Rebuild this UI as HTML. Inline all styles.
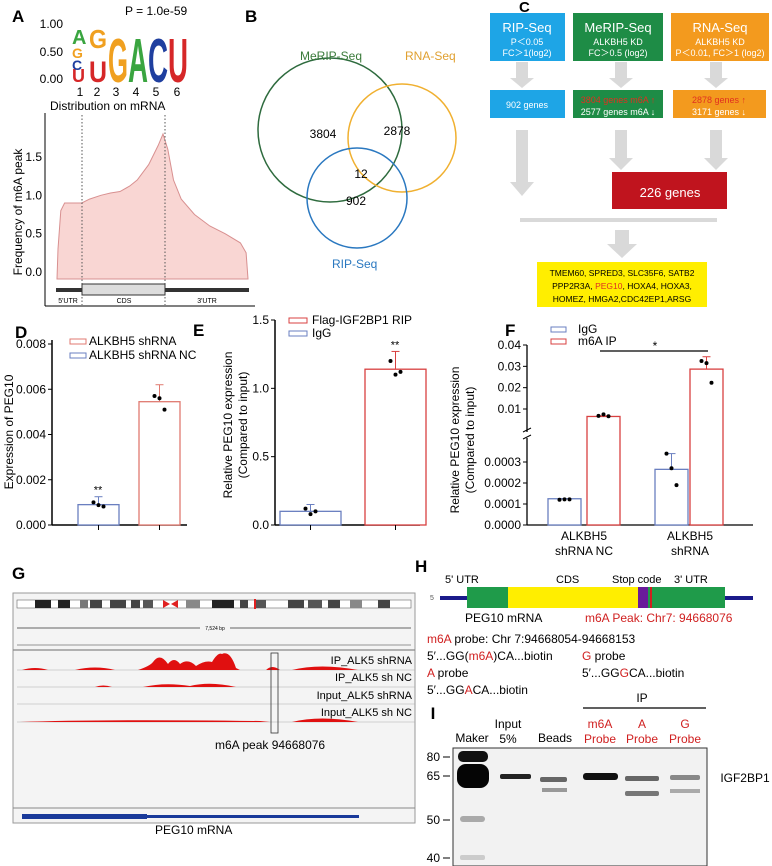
<!DOCTYPE html>
<html><head><meta charset="utf-8"><style>
html,body{margin:0;padding:0;background:#fff}
svg{display:block;font-family:"Liberation Sans",Arial,sans-serif}
</style></head><body>
<svg id="fig" width="772" height="866" viewBox="0 0 772 866" xmlns="http://www.w3.org/2000/svg">
<!-- Panel A -->
<g>
<text x="12" y="22" font-size="17" font-weight="bold">A</text>
<text x="125" y="15" font-size="12">P = 1.0e-59</text>
<g font-size="12" text-anchor="end">
<text x="63" y="28">1.00</text><text x="63" y="56">0.50</text><text x="63" y="83">0.00</text></g>
<g font-family="Liberation Sans" font-weight="bold">
<text x="72" y="82" font-size="18" fill="#d62728">U</text>
<text x="72" y="70" font-size="14" fill="#1f3f9f">C</text>
<text x="72" y="58" font-size="14" fill="#f0a020">G</text>
<text x="72" y="44" font-size="20" fill="#3aa540">A</text>
<text x="89" y="82" font-size="30" fill="#d62728" textLength="18" lengthAdjust="spacingAndGlyphs">U</text>
<text x="89" y="48" font-size="26" fill="#f0a020" textLength="18" lengthAdjust="spacingAndGlyphs">G</text>
<text x="108" y="82" font-size="62" fill="#f0a020" textLength="20" lengthAdjust="spacingAndGlyphs">G</text>
<text x="128" y="82" font-size="62" fill="#3aa540" textLength="20" lengthAdjust="spacingAndGlyphs">A</text>
<text x="148" y="82" font-size="62" fill="#1f3f9f" textLength="20" lengthAdjust="spacingAndGlyphs">C</text>
<text x="168" y="82" font-size="62" fill="#d62728" textLength="20" lengthAdjust="spacingAndGlyphs">U</text>
</g>
<g font-size="12" text-anchor="middle">
<text x="80" y="96">1</text><text x="97" y="96">2</text><text x="116" y="96">3</text><text x="136" y="96">4</text><text x="156" y="96">5</text><text x="177" y="96">6</text></g>
<text x="50" y="110" font-size="12">Distribution on mRNA</text>
<g id="chartA"></g>
<text transform="translate(22,212) rotate(-90)" font-size="12" text-anchor="middle">Frequency of m6A peak</text>
</g>
<!-- Panel B -->
<g>
<text x="245" y="22" font-size="17" font-weight="bold">B</text>
<circle cx="330" cy="130" r="72" fill="none" stroke="#2e6b3e" stroke-width="1.5"/>
<circle cx="402" cy="138" r="54" fill="none" stroke="#f0b030" stroke-width="1.5"/>
<circle cx="357" cy="198" r="50" fill="none" stroke="#2a78c0" stroke-width="1.5"/>
<text x="300" y="60" font-size="12" fill="#3a7a3a">MeRIP-Seq</text>
<text x="405" y="60" font-size="12" fill="#e0a030">RNA-Seq</text>
<text x="332" y="268" font-size="12" fill="#2a78c0">RIP-Seq</text>
<g font-size="12" text-anchor="middle">
<text x="323" y="138">3804</text><text x="397" y="135">2878</text><text x="361" y="178">12</text><text x="356" y="205">902</text></g>
</g>
<!-- Panel C -->
<g text-anchor="middle">
<g fill="#d9d9d9">
<rect x="516" y="62" width="12" height="16"/><polygon points="510,78 534,78 522,88"/>
<rect x="615" y="62" width="12" height="16"/><polygon points="609,78 633,78 621,88"/>
<rect x="710" y="62" width="12" height="16"/><polygon points="704,78 728,78 716,88"/>
<rect x="516" y="130" width="12" height="52"/><polygon points="510,182 534,182 522,196"/>
<rect x="615" y="130" width="12" height="30"/><polygon points="609,158 633,158 621,170"/>
<rect x="710" y="130" width="12" height="30"/><polygon points="704,158 728,158 716,170"/>
<rect x="520" y="218" width="197" height="4"/>
<rect x="615" y="230" width="14" height="14"/><polygon points="607,244 637,244 622,258"/>
</g>
<rect x="490" y="13" width="75" height="48" fill="#1ea5e6"/>
<text x="527" y="32" font-size="13" fill="#fff">RIP-Seq</text><text x="527" y="45" font-size="9" fill="#fff">P＜0.05</text><text x="527" y="56" font-size="9" fill="#fff">FC＞1(log2)</text>
<rect x="573" y="13" width="90" height="48" fill="#1e8c46"/>
<text x="618" y="32" font-size="13" fill="#fff">MeRIP-Seq</text><text x="618" y="45" font-size="9" fill="#fff">ALKBH5 KD</text><text x="618" y="56" font-size="9" fill="#fff">FC＞0.5 (log2)</text>
<rect x="671" y="13" width="98" height="48" fill="#f39a1e"/>
<text x="720" y="32" font-size="13" fill="#fff">RNA-Seq</text><text x="720" y="45" font-size="9" fill="#fff">ALKBH5 KD</text><text x="720" y="56" font-size="9" fill="#fff">P＜0.01, FC＞1 (log2)</text>
<rect x="490" y="90" width="75" height="28" fill="#1ea5e6"/>
<text x="527" y="108" font-size="9" fill="#fff">902 genes</text>
<rect x="573" y="90" width="90" height="28" fill="#1e8c46"/>
<text x="618" y="103" font-size="9" fill="#e03020">3804 genes m6A ↑</text><text x="618" y="115" font-size="9" fill="#fff">2577 genes m6A ↓</text>
<rect x="673" y="90" width="93" height="28" fill="#f39a1e"/>
<text x="719" y="103" font-size="9" fill="#e03020">2878 genes ↑</text><text x="719" y="115" font-size="9" fill="#fff">3171 genes ↓</text>
<rect x="612" y="172" width="115" height="37" fill="#c0141e"/>
<text x="670" y="197" font-size="13" fill="#fff">226 genes</text>
<rect x="537" y="262" width="170" height="45" fill="#ffee00"/>
<g font-size="8.5">
<text x="622" y="276">TMEM60, SPRED3, SLC35F6, SATB2</text>
<text x="622" y="289">PPP2R3A, <tspan fill="#e03020">PEG10</tspan>, HOXA4, HOXA3,</text>
<text x="622" y="302">HOMEZ, HMGA2,CDC42EP1,ARSG</text></g>
<text x="519" y="12" font-size="15" font-weight="bold" text-anchor="start">C</text>
</g>
<!-- Panels D,E,F -->
<text x="15" y="338" font-size="17" font-weight="bold">D</text>
<text x="193" y="336" font-size="17" font-weight="bold">E</text>
<text x="505" y="336" font-size="17" font-weight="bold">F</text>
<g id="chartD"></g>
<g id="chartE"></g>
<g id="chartF"></g>
<!-- Panel G -->
<g>
<text x="12" y="579" font-size="17" font-weight="bold">G</text>
<rect x="13" y="593" width="402" height="230" fill="#f4f4f4" stroke="#999"/>
<rect x="17" y="600" width="394" height="8" fill="#fff" stroke="#666" stroke-width="0.6"/>
<g fill="#222">
<rect x="35" y="600" width="16" height="8"/><rect x="58" y="600" width="12" height="8"/><rect x="80" y="600" width="8" height="8" fill="#777"/><rect x="90" y="600" width="12" height="8" fill="#444"/><rect x="110" y="600" width="16" height="8" fill="#444"/><rect x="131" y="600" width="9" height="8" fill="#444"/><rect x="143" y="600" width="10" height="8" fill="#555"/><rect x="186" y="600" width="14" height="8" fill="#888"/><rect x="212" y="600" width="22" height="8"/><rect x="240" y="600" width="8" height="8" fill="#444"/><rect x="256" y="600" width="10" height="8" fill="#555"/><rect x="288" y="600" width="16" height="8" fill="#444"/><rect x="308" y="600" width="14" height="8" fill="#555"/><rect x="328" y="600" width="12" height="8" fill="#444"/><rect x="350" y="600" width="12" height="8" fill="#888"/><rect x="378" y="600" width="12" height="8" fill="#444"/>
<rect x="254" y="599" width="2" height="10" fill="#e02020"/>
<polygon points="163,600 170,604 163,608" fill="#e02020"/><polygon points="178,600 171,604 178,608" fill="#e02020"/></g>
<line x1="17" y1="628" x2="411" y2="628" stroke="#333" stroke-width="0.8"/>
<rect x="200" y="624" width="30" height="8" fill="#f4f4f4"/>
<text x="215" y="630" font-size="5" text-anchor="middle">7,524 bp</text>
<line x1="17" y1="645" x2="411" y2="645" stroke="#333" stroke-width="0.6"/>
<line x1="13" y1="650" x2="415" y2="650" stroke="#888" stroke-width="1.2"/>
<g stroke="#aaa" stroke-width="0.5"><line x1="17" y1="670" x2="415" y2="670"/><line x1="17" y1="687" x2="415" y2="687"/><line x1="17" y1="704" x2="415" y2="704"/><line x1="17" y1="722" x2="415" y2="722"/><line x1="13" y1="808" x2="415" y2="808" stroke="#888" stroke-width="1"/></g>
<g fill="#e01010">
<path d="M22 670 Q35 666 48 670 L75 670 Q95 665 115 670 L138 670 Q150 666 153 662 Q160 652 168 664 Q174 656 180 664 Q188 658 196 666 Q205 660 212 662 Q218 652 222 654 Q230 650 236 668 L240 670 Z"/>
<path d="M266 670 Q272 664 280 670 Z M292 670 Q320 663 358 670 Z"/>
<path d="M95 687 Q103 684 112 687 Z M143 687 Q165 682 190 686 Q210 681 236 687 Z"/>
<path d="M20 722 Q100 719 260 721 L270 722 Z M292 722 Q320 715 358 722 Z"/>
</g>
<g font-size="11" text-anchor="end">
<text x="412" y="664">IP_ALK5 shRNA</text><text x="412" y="681">IP_ALK5 sh NC</text><text x="412" y="699">Input_ALK5 shRNA</text><text x="412" y="716">Input_ALK5 sh NC</text></g>
<rect x="271" y="653" width="7" height="80" fill="none" stroke="#333" stroke-width="0.8"/>
<text x="215" y="749" font-size="12">m6A peak 94668076</text>
<rect x="22" y="814" width="125" height="5" fill="#1a3a9a"/>
<rect x="147" y="815" width="212" height="3" fill="#1a3a9a"/>
<text x="155" y="834" font-size="12">PEG10 mRNA</text>
</g>
<!-- Panel H -->
<g font-size="11">
<text x="415" y="572" font-size="17" font-weight="bold">H</text>
<g font-size="11"><text x="445" y="583">5' UTR</text><text x="556" y="583">CDS</text><text x="612" y="583">Stop code</text><text x="674" y="583">3' UTR</text></g>
<text x="430" y="600" font-size="7" fill="#555">5</text>
<rect x="440" y="596" width="313" height="4" fill="#1a1a8a"/>
<rect x="467" y="587" width="41" height="21" fill="#1f9b4a"/>
<rect x="508" y="587" width="130" height="21" fill="#ffee00"/>
<rect x="638" y="587" width="10" height="21" fill="#6a1b9a"/>
<rect x="648" y="587" width="77" height="21" fill="#1f9b4a"/>
<rect x="650" y="587" width="2" height="21" fill="#d02020"/>
<text x="465" y="622" font-size="12">PEG10 mRNA</text>
<text x="585" y="622" font-size="12" fill="#d02020">m6A Peak: Chr7: 94668076</text>
<text x="427" y="643" font-size="12"><tspan fill="#d02020">m6A</tspan> probe: Chr 7:94668054-94668153</text>
<text x="427" y="660" font-size="12">5′...GG(<tspan fill="#d02020">m6A</tspan>)CA...biotin</text>
<text x="582" y="660" font-size="12"><tspan fill="#d02020">G</tspan> probe</text>
<text x="427" y="677" font-size="12"><tspan fill="#d02020">A</tspan> probe</text>
<text x="582" y="677" font-size="12">5′...GG<tspan fill="#d02020">G</tspan>CA...biotin</text>
<text x="427" y="694" font-size="12">5′...GG<tspan fill="#d02020">A</tspan>CA...biotin</text>
</g>
<!-- Panel I -->
<g font-size="12" text-anchor="middle">
<text x="433" y="719" font-size="17" font-weight="bold">I</text>
<text x="642" y="702">IP</text>
<line x1="583" y1="708" x2="706" y2="708" stroke="#000" stroke-width="1.2"/>
<text x="472" y="742">Maker</text>
<text x="508" y="728">Input</text><text x="508" y="743">5%</text>
<text x="555" y="742">Beads</text>
<g fill="#d02020"><text x="600" y="728">m6A</text><text x="600" y="743">Probe</text><text x="642" y="728">A</text><text x="642" y="743">Probe</text><text x="685" y="728">G</text><text x="685" y="743">Probe</text></g>
<rect x="453" y="748" width="254" height="118" fill="#f2f2f2" stroke="#333"/>
<g text-anchor="end"><text x="440" y="761">80</text><text x="440" y="780">65</text><text x="440" y="824">50</text><text x="440" y="862">40</text></g>
<g stroke="#000"><line x1="443" y1="757" x2="450" y2="757"/><line x1="443" y1="776" x2="450" y2="776"/><line x1="443" y1="820" x2="450" y2="820"/><line x1="443" y1="858" x2="450" y2="858"/></g>
<g>
<rect x="458" y="751" width="30" height="11" rx="5" fill="#111"/>
<rect x="457" y="764" width="32" height="24" rx="9" fill="#050505"/>
<rect x="460" y="816" width="25" height="6" rx="3" fill="#aaa"/>
<rect x="460" y="855" width="25" height="5" rx="2" fill="#ccc"/>
<rect x="500" y="774" width="31" height="5" rx="2" fill="#222"/>
<rect x="540" y="777" width="27" height="5" rx="2" fill="#666"/>
<rect x="542" y="788" width="25" height="4" fill="#999"/>
<rect x="583" y="773" width="35" height="7" rx="3" fill="#111"/>
<rect x="625" y="776" width="34" height="5" rx="2" fill="#666"/>
<rect x="625" y="791" width="34" height="5" rx="2" fill="#777"/>
<rect x="670" y="775" width="30" height="5" rx="2" fill="#888"/>
<rect x="670" y="789" width="30" height="4" fill="#aaa"/></g>
<text x="745" y="782">IGF2BP1</text>
</g>
</svg>
<script>
const NS="http://www.w3.org/2000/svg";
function mk(p,tag,a){const e=document.createElementNS(NS,tag);for(const k in a)e.setAttribute(k,a[k]);p.appendChild(e);return e;}
// ---- Panel A data ----
const metaPos=[0,0.005,0.02,0.04,0.13,0.17,0.23,0.28,0.33,0.38,0.42,0.48,0.53,0.555,0.58,0.61,0.65,0.72,0.8,0.88,0.96,0.99,1.0];
const metaFreq=[-0.09,0.3,0.8,0.9,0.9,0.95,1.0,1.03,1.05,1.12,1.2,1.4,1.65,1.8,1.6,1.2,0.95,0.75,0.6,0.5,0.38,0.25,-0.09];
const aTicks=[0.0,0.5,1.0,1.5];
// ---- Panel D data ----
const dGroups=["ALKBH5 shRNA NC","ALKBH5 shRNA"];
const dMeans=[0.0009,0.00545];
const dErr=[0.00125,0.0062];
const dPts=[[0.0010,0.00088,0.00082],[0.0057,0.0056,0.0051]];
const dTicks=[0,0.002,0.004,0.006,0.008];
const dTickLabels=["0.000","0.002","0.004","0.006","0.008"];
// ---- Panel E data ----
const eGroups=["IgG","Flag-IGF2BP1 RIP"];
const eMeans=[0.10,1.14];
const eErr=[0.15,1.27];
const ePts=[[0.12,0.08,0.10],[1.20,1.10,1.12]];
const eTicks=[0,0.5,1.0,1.5];
const eTickLabels=["0.0","0.5","1.0","1.5"];
// ---- Panel F data ----
const fCategories=["ALKBH5 shRNA NC","ALKBH5 shRNA"];
const fIgG=[0.000125,0.000265];
const fIgGErr=[0.000125,0.00034];
const fIgGPts=[[0.000120,0.000122,0.000122],[0.00034,0.00027,0.00019]];
const fM6A=[0.0065,0.0287];
const fM6AErr=[0.0068,0.0345];
const fM6APts=[[0.0068,0.0075,0.0066],[0.0325,0.0315,0.0223]];
const fLowTicks=[0,0.0001,0.0002,0.0003];
const fLowLabels=["0.0000","0.0001","0.0002","0.0003"];
const fHighTicks=[0.01,0.02,0.03,0.04];
const fHighLabels=["0.01","0.02","0.03","0.04"];

// Panel A render
(function(){
const g=document.getElementById('chartA');
const x=p=>57+p*191, y=v=>272-v*76.7;
let d="M"+x(metaPos[0])+" 279";
metaPos.forEach((p,i)=>{d+=" L"+x(p).toFixed(1)+" "+y(metaFreq[i]).toFixed(1);});
d+=" L"+x(1)+" 279 Z";
const pa=mk(g,'path',{d:d,fill:'#f9d6d3',stroke:'#d89090','stroke-width':1});


mk(g,'line',{x1:45,y1:113,x2:45,y2:306,stroke:'#000'});
mk(g,'line',{x1:45,y1:306,x2:255,y2:306,stroke:'#000'});
aTicks.forEach(t=>{const tx=mk(g,'text',{x:42,y:y(t)+4,'font-size':12,'text-anchor':'end'});tx.textContent=t.toFixed(1);

});
[82,165].forEach(v=>mk(g,'line',{x1:v,y1:115,x2:v,y2:305,stroke:'#555','stroke-dasharray':'1.5,2'}));
mk(g,'rect',{x:56,y:288,width:193,height:4,fill:'#333'});
const cds=mk(g,'rect',{x:82,y:284,width:83,height:11,fill:'#ddd',stroke:'#333'});


[["5'UTR",68],["CDS",124],["3'UTR",207]].forEach(l=>{const t=mk(g,'text',{x:l[1],y:303,'font-size':7,'text-anchor':'middle'});t.textContent=l[0];});
})();

function barChart(gid,opt){
const g=document.getElementById(gid);
const y=opt.y;
mk(g,'line',{x1:opt.ax,y1:opt.top,x2:opt.ax,y2:opt.base,stroke:'#000','stroke-width':1.5});
mk(g,'line',{x1:opt.ax,y1:opt.base,x2:opt.axEnd,y2:opt.base,stroke:'#000','stroke-width':1.5});
opt.ticks.forEach((t,i)=>{mk(g,'line',{x1:opt.ax-4,y1:y(t),x2:opt.ax,y2:y(t),stroke:'#000'});
const tx=mk(g,'text',{x:opt.ax-6,y:y(t)+4,'font-size':12,'text-anchor':'end'});tx.textContent=opt.labels[i];

});
opt.means.forEach((m,i)=>{const bx=opt.bx[i],bw=opt.bw,c=opt.colors[i];
const r=mk(g,'rect',{x:bx,y:y(m),width:bw,height:opt.base-y(m),fill:'#fff',stroke:c,'stroke-width':1.3});


const cx=bx+bw/2;
mk(g,'line',{x1:cx,y1:y(m),x2:cx,y2:y(opt.err[i]),stroke:c});
mk(g,'line',{x1:cx-4,y1:y(opt.err[i]),x2:cx+4,y2:y(opt.err[i]),stroke:c});
opt.pts[i].forEach((p,j)=>{const dot=mk(g,'circle',{cx:cx-5+j*5,cy:y(p),r:2,fill:'#000'});

});
mk(g,'line',{x1:cx,y1:opt.base,x2:cx,y2:opt.base+5,stroke:'#000'});
});
}
// D
barChart('chartD',{y:v=>525-v/0.008*181,ax:52,top:340,base:525,axEnd:187,ticks:dTicks,labels:dTickLabels,means:dMeans,err:dErr,pts:dPts,bx:[78,139],bw:41,colors:['#6a7fc0','#e07a70']});
(function(){const g=document.getElementById('chartD');
const y=v=>525-v/0.008*181;
const s=mk(g,'text',{x:98,y:y(dErr[0])-3,'font-size':11,'text-anchor':'middle'});s.textContent='**';
mk(g,'rect',{x:70,y:339,width:16,height:5,fill:'none',stroke:'#e07a70'});
const t1=mk(g,'text',{x:89,y:345,'font-size':12});t1.textContent='ALKBH5 shRNA';
mk(g,'rect',{x:70,y:353,width:16,height:5,fill:'none',stroke:'#6a7fc0'});
const t2=mk(g,'text',{x:89,y:359,'font-size':12});t2.textContent='ALKBH5 shRNA NC';
const yl=mk(g,'text',{transform:'translate(13,432) rotate(-90)','font-size':12,'text-anchor':'middle'});yl.textContent='Expression of PEG10';

})();
// E
barChart('chartE',{y:v=>525-v/1.5*205,ax:275,top:320,base:525,axEnd:420,ticks:eTicks,labels:eTickLabels,means:eMeans,err:eErr,pts:ePts,bx:[280,365],bw:61,colors:['#6a7fc0','#d84040']});
(function(){const g=document.getElementById('chartE');
const y=v=>525-v/1.5*205;
const s=mk(g,'text',{x:395,y:y(eErr[1])-3,'font-size':11,'text-anchor':'middle'});s.textContent='**';
mk(g,'rect',{x:289,y:318,width:18,height:5,fill:'none',stroke:'#d84040'});
const t1=mk(g,'text',{x:312,y:324,'font-size':12});t1.textContent='Flag-IGF2BP1 RIP';
mk(g,'rect',{x:289,y:331,width:18,height:5,fill:'none',stroke:'#6a7fc0'});
const t2=mk(g,'text',{x:312,y:337,'font-size':12});t2.textContent='IgG';
const yl=mk(g,'text',{transform:'translate(232,425) rotate(-90)','font-size':12,'text-anchor':'middle'});yl.textContent='Relative PEG10 expression';
const yl2=mk(g,'text',{transform:'translate(247,425) rotate(-90)','font-size':12,'text-anchor':'middle'});yl2.textContent='(Compared to input)';

})();
// F
(function(){const g=document.getElementById('chartF');
const y=v=>v<=0.00035?525-v/0.0003*63:409-(v-0.01)*2133;
const ax=527,base=525;
mk(g,'line',{x1:ax,y1:345,x2:ax,y2:432,stroke:'#000','stroke-width':1.3});
mk(g,'line',{x1:ax,y1:438,x2:ax,y2:base,stroke:'#000','stroke-width':1.3});
mk(g,'line',{x1:ax-4,y1:432,x2:ax+4,y2:428,stroke:'#000'});
mk(g,'line',{x1:ax-4,y1:439,x2:ax+4,y2:435,stroke:'#000'});
mk(g,'line',{x1:ax,y1:base,x2:753,y2:base,stroke:'#000','stroke-width':1.3});
fLowTicks.forEach((t,i)=>{mk(g,'line',{x1:ax-4,y1:y(t),x2:ax,y2:y(t),stroke:'#000'});const tx=mk(g,'text',{x:ax-6,y:y(t)+4,'font-size':12,'text-anchor':'end'});tx.textContent=fLowLabels[i];});
fHighTicks.forEach((t,i)=>{mk(g,'line',{x1:ax-4,y1:y(t),x2:ax,y2:y(t),stroke:'#000'});const tx=mk(g,'text',{x:ax-6,y:y(t)+4,'font-size':12,'text-anchor':'end'});tx.textContent=fHighLabels[i];});
const groups=[[fIgG,fIgGErr,fIgGPts,[548,655],'#6a7fc0'],[fM6A,fM6AErr,fM6APts,[587,690],'#d84040']];
groups.forEach(gr=>{gr[0].forEach((m,i)=>{const bx=gr[3][i],bw=33,c=gr[4];
const r=mk(g,'rect',{x:bx,y:y(m),width:bw,height:base-y(m),fill:'#fff',stroke:c,'stroke-width':1.3});


const cx=bx+bw/2;
mk(g,'line',{x1:cx,y1:y(m),x2:cx,y2:y(gr[1][i]),stroke:c});
mk(g,'line',{x1:cx-4,y1:y(gr[1][i]),x2:cx+4,y2:y(gr[1][i]),stroke:c});
gr[2][i].forEach((p,j)=>{const dot=mk(g,'circle',{cx:cx-5+j*5,cy:y(p),r:2,fill:'#000'});

});});});
mk(g,'line',{x1:600,y1:351,x2:708,y2:351,stroke:'#000','stroke-width':1.3});
const st=mk(g,'text',{x:655,y:350,'font-size':12,'text-anchor':'middle'});st.textContent='*';
mk(g,'rect',{x:551,y:327,width:15,height:5,fill:'none',stroke:'#6a7fc0'});
const l1=mk(g,'text',{x:578,y:333,'font-size':12});l1.textContent='IgG';
mk(g,'rect',{x:551,y:339,width:15,height:5,fill:'none',stroke:'#d84040'});
const l2=mk(g,'text',{x:578,y:345,'font-size':12});l2.textContent='m6A IP';
[[584,0],[690,1]].forEach(a=>{const parts=fCategories[a[1]].split(' ');
const t1=mk(g,'text',{x:a[0],y:540,'font-size':12,'text-anchor':'middle'});t1.textContent=parts[0];
const t2=mk(g,'text',{x:a[0],y:555,'font-size':12,'text-anchor':'middle'});t2.textContent=parts.slice(1).join(' ');

});
const yl=mk(g,'text',{transform:'translate(459,440) rotate(-90)','font-size':12,'text-anchor':'middle'});yl.textContent='Relative PEG10 expression';
const yl2=mk(g,'text',{transform:'translate(474,440) rotate(-90)','font-size':12,'text-anchor':'middle'});yl2.textContent='(Compared to input)';

})();
</script>
</body></html>
